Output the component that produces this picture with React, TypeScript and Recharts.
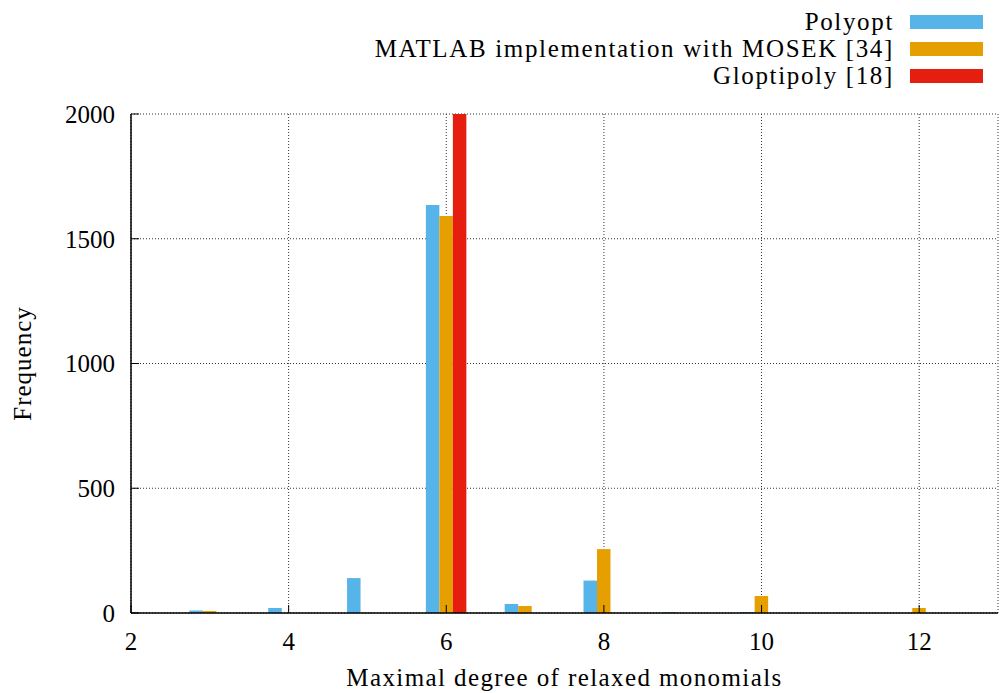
import { Bar, BarChart, CartesianGrid, Legend, XAxis, YAxis } from "recharts";

const degrees = [3, 4, 5, 6, 7, 8, 9, 10, 11, 12];
const polyopt = [10, 20, 140, 1635, 36, 130, 4, 4, 0, 0];
const matlab = [8, 0, 1, 1591, 28, 256, 0, 68, 1, 20];
const gloptipoly = [0, 0, 0, 2000, 0, 0, 0, 0, 0, 0];

const xTicks = [2, 4, 6, 8, 10, 12];
const yTicks = [0, 500, 1000, 1500, 2000];

const series = [
  { key: "polyopt", name: "Polyopt", color: "#56b4e9" },
  { key: "matlab", name: "MATLAB implementation with MOSEK [34]", color: "#e69f00" },
  { key: "gloptipoly", name: "Gloptipoly [18]", color: "#e51e10" },
];

const data = degrees.map((d, i) => ({
  degree: d,
  polyopt: polyopt[i],
  matlab: matlab[i],
  gloptipoly: gloptipoly[i],
}));

const FONT = "'Liberation Serif', serif";
const tickStyle = { fill: "#000", fontSize: 25, fontFamily: FONT };
const frame = { stroke: "#000", strokeWidth: 1.5 };

function LegendBox() {
  return (
    <div
      style={{
        height: 114,
        boxSizing: "border-box",
        paddingTop: 8,
        paddingRight: 15,
        display: "flex",
        flexDirection: "column",
        alignItems: "flex-end",
      }}
    >
      {series.map((s) => (
        <div
          key={s.key}
          style={{ display: "flex", alignItems: "center", height: 27 }}
        >
          <span
            style={{
              fontFamily: FONT,
              fontSize: 25,
              letterSpacing: 1.65,
              color: "#000",
              lineHeight: "27px",
            }}
          >
            {s.name}
          </span>
          <span
            style={{
              display: "inline-block",
              width: 73,
              height: 14,
              marginLeft: 16,
              background: s.color,
            }}
          />
        </div>
      ))}
    </div>
  );
}

export default function App() {
  return (
    <div style={{ position: "absolute", left: 0, top: 0, fontFamily: FONT }}>
      <BarChart
        width={1004}
        height={693}
        data={data}
        margin={{ top: 0, right: 6, bottom: 0, left: 0 }}
        barGap={0}
        barSize={13.5}
      >
        <Legend verticalAlign="top" align="right" content={() => <LegendBox />} />
        <CartesianGrid stroke="#333" strokeDasharray="1 2" />
        <XAxis
          dataKey="degree"
          type="number"
          domain={[2, 13]}
          ticks={xTicks}
          height={80}
          tick={tickStyle}
          tickSize={-8}
          tickMargin={27}
          tickLine={{ stroke: "#000" }}
          axisLine={frame}
          label={{
            value: "Maximal degree of relaxed monomials",
            position: "insideBottom",
            offset: 7,
            style: { fill: "#000", fontSize: 25, fontFamily: FONT, letterSpacing: 1.4 },
          }}
        />
        <XAxis
          xAxisId="top"
          orientation="top"
          dataKey="degree"
          type="number"
          domain={[2, 13]}
          ticks={xTicks}
          height={0}
          tick={false}
          tickSize={-8}
          tickLine={{ stroke: "#000" }}
          axisLine={frame}
        />
        <YAxis
          type="number"
          domain={[0, 2000]}
          allowDataOverflow
          ticks={yTicks}
          width={131}
          tick={tickStyle}
          tickSize={-8}
          tickMargin={24}
          tickLine={{ stroke: "#000" }}
          axisLine={frame}
          label={{
            value: "Frequency",
            angle: -90,
            position: "insideLeft",
            offset: 22,
            style: { fill: "#000", fontSize: 25, fontFamily: FONT, letterSpacing: 1, textAnchor: "middle" },
          }}
        />
        <YAxis
          yAxisId="right"
          orientation="right"
          type="number"
          domain={[0, 2000]}
          ticks={yTicks}
          width={0}
          tick={false}
          tickSize={-8}
          tickLine={{ stroke: "#000" }}
          axisLine={frame}
        />
        {series.map((s) => (
          <Bar
            key={s.key}
            dataKey={s.key}
            name={s.name}
            fill={s.color}
            isAnimationActive={false}
          />
        ))}
      </BarChart>
    </div>
  );
}
